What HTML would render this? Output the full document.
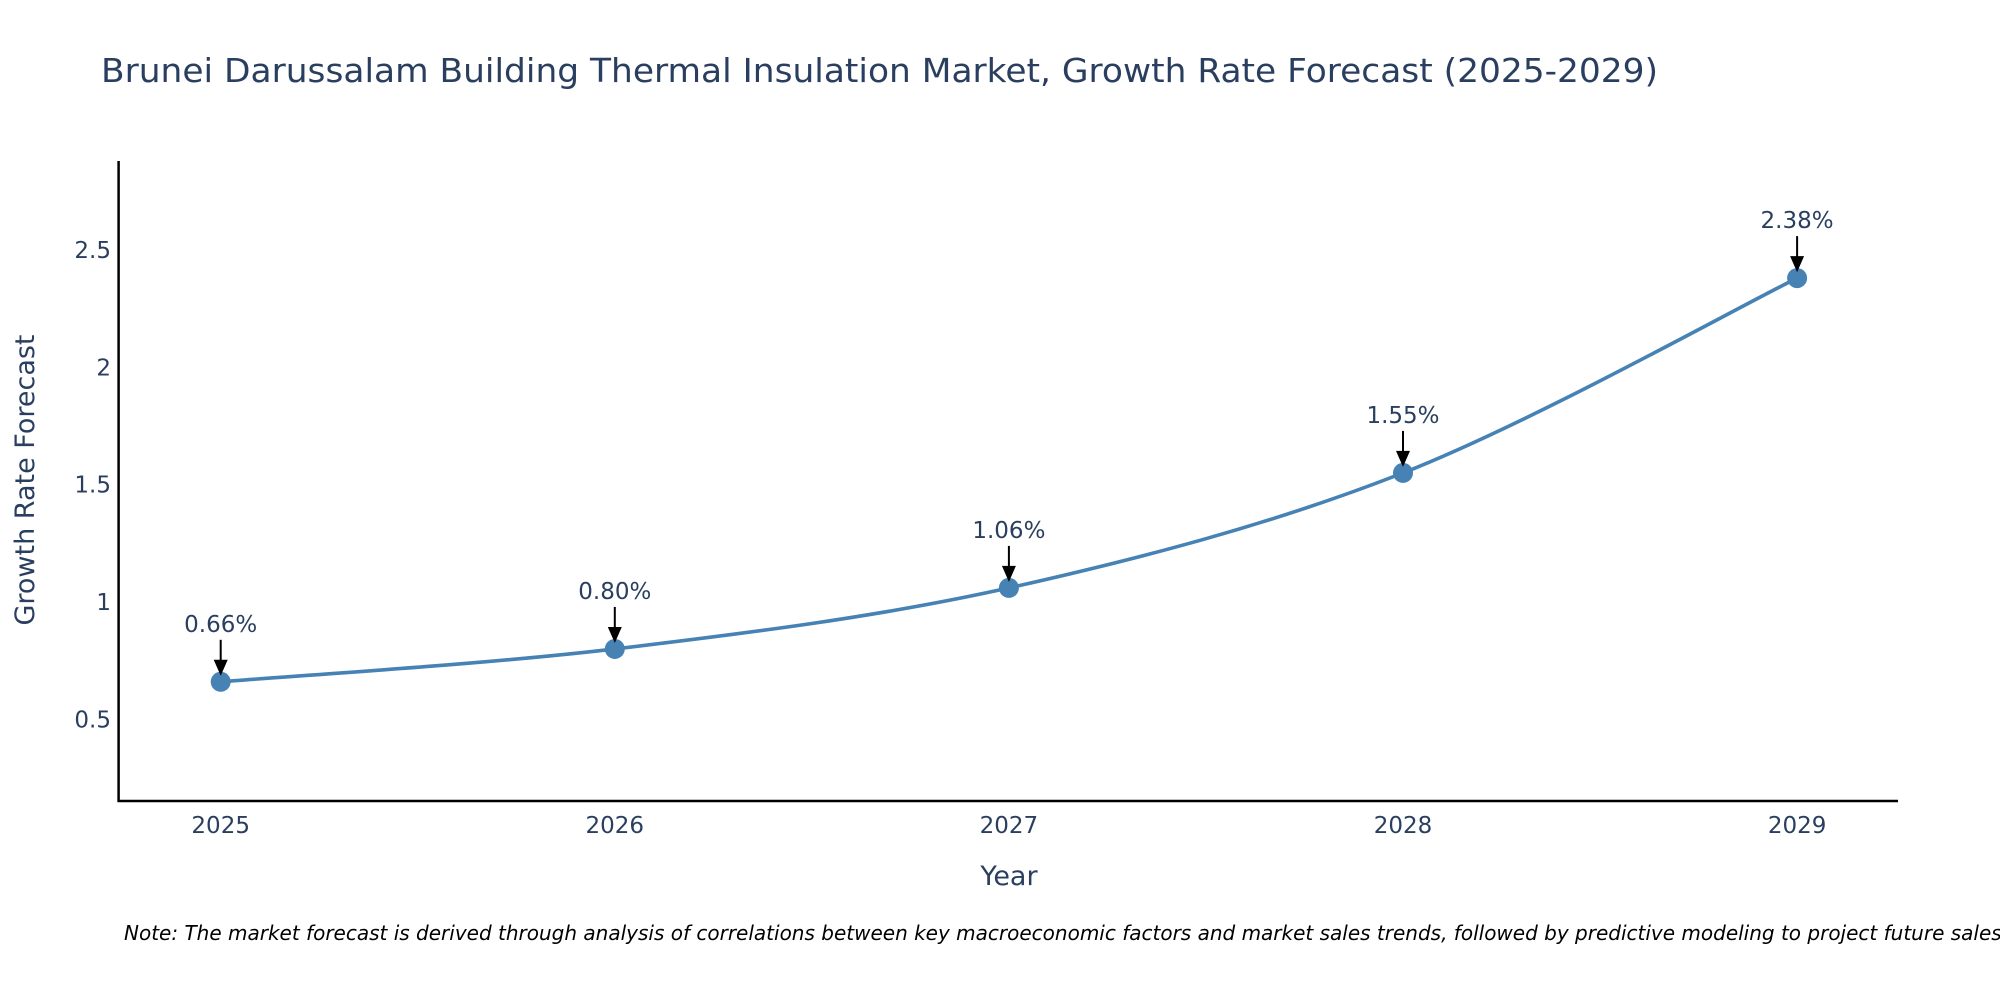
<!DOCTYPE html>
<html><head><meta charset="utf-8"><style>
html,body{margin:0;padding:0;background:#fff;overflow:hidden;}
svg{display:block;font-family:"DejaVu Sans","Liberation Sans",sans-serif;}
</style></head><body>
<svg id="chart" width="2000" height="1000" viewBox="0 0 2000 1000">
<text x="101" y="82" font-size="33" fill="#2a3f5f" textLength="1557" lengthAdjust="spacingAndGlyphs">Brunei Darussalam Building Thermal Insulation Market, Growth Rate Forecast (2025-2029)</text>
<g id="yticks"></g>
<g id="xticks"></g>
<line x1="118.6" y1="161" x2="118.6" y2="801" stroke="#000" stroke-width="2.5"/>
<line x1="117.4" y1="801" x2="1898" y2="801" stroke="#000" stroke-width="2.5"/>
<text x="1009" y="885" font-size="27" fill="#2a3f5f" text-anchor="middle">Year</text>
<text transform="translate(34,480) rotate(-90)" font-size="27" fill="#2a3f5f" text-anchor="middle">Growth Rate Forecast</text>
<g id="series"></g>
<g id="annots"></g>
<text x="124" y="940" font-size="20" font-style="italic" fill="#000">Note: The market forecast is derived through analysis of correlations between key macroeconomic factors and market sales trends, followed by predictive modeling to project future sales.</text>
</svg>
<script>
const years = [2025, 2026, 2027, 2028, 2029];
const growth = [0.66, 0.80, 1.06, 1.55, 2.38];
const labels = ["0.66%", "0.80%", "1.06%", "1.55%", "2.38%"];
const yTickVals = [0.5, 1, 1.5, 2, 2.5];
const yTickText = ["0.5", "1", "1.5", "2", "2.5"];

const NS = "http://www.w3.org/2000/svg";
const x0 = 220.7, xStep = 394.1, y0 = 836.7, yScale = 234.7;
function xs(i){ return x0 + (years[i]-years[0]) * xStep; }
function xYear(yr){ return x0 + (yr-years[0]) * xStep; }
function ys(v){ return y0 - v * yScale; }
function mk(tag, attrs, parent){
  const e = document.createElementNS(NS, tag);
  for (const k in attrs) e.setAttribute(k, attrs[k]);
  parent.appendChild(e); return e;
}
const yt = document.getElementById("yticks");
yTickVals.forEach((v,i)=>{
  const t = mk("text", {x:111, y:ys(v)+8, "font-size":23, fill:"#2a3f5f", "text-anchor":"end"}, yt);
  
  
  t.textContent = yTickText[i];
});
const xt = document.getElementById("xticks");
years.forEach((yr)=>{
  const t = mk("text", {x:xYear(yr), y:833, "font-size":23, fill:"#2a3f5f", "text-anchor":"middle"}, xt);
  
  
  t.textContent = String(yr);
});
const pts = growth.map((v,i)=>[xs(i), ys(v)]);
let d = "M" + pts[0][0] + "," + pts[0][1];
const tension = 0.33;
for (let i=0;i<pts.length-1;i++){
  const p0 = pts[i-1]||pts[i], p1 = pts[i], p2 = pts[i+1], p3 = pts[i+2]||pts[i+1];
  const c1 = [p1[0]+(p2[0]-p0[0])*tension/2, p1[1]+(p2[1]-p0[1])*tension/2];
  const c2 = [p2[0]-(p3[0]-p1[0])*tension/2, p2[1]-(p3[1]-p1[1])*tension/2];
  d += " C"+c1[0]+","+c1[1]+" "+c2[0]+","+c2[1]+" "+p2[0]+","+p2[1];
}
const sg = document.getElementById("series");
const line = mk("path", {d:d, fill:"none", stroke:"#4682b4", "stroke-width":3.6}, sg);


pts.forEach((p)=>{
  const c = mk("circle", {cx:p[0], cy:p[1], r:10, fill:"#4682b4"}, sg);
  
  
});
const ag = document.getElementById("annots");
pts.forEach((p,i)=>{
  const t = mk("text", {x:p[0], y:p[1]-50, "font-size":23, fill:"#2a3f5f", "text-anchor":"middle"}, ag);
  
  
  t.textContent = labels[i];
  const l = mk("line", {x1:p[0], y1:p[1]-42, x2:p[0], y2:p[1]-20, stroke:"#000", "stroke-width":2}, ag);
  
  
  const h = mk("path", {d:"M"+(p[0]-7)+","+(p[1]-22)+" L"+(p[0]+7)+","+(p[1]-22)+" L"+p[0]+","+(p[1]-6)+" Z", fill:"#000"}, ag);
  
  
});
</script>
</body></html>
